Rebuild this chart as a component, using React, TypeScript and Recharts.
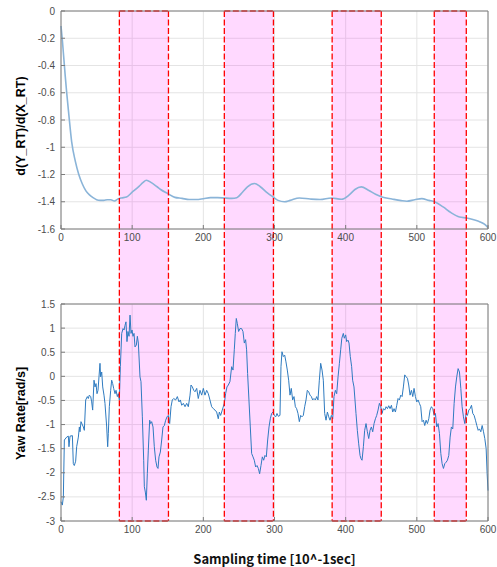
import { LineChart, Line, XAxis, YAxis, CartesianGrid, ReferenceArea, ReferenceLine } from "recharts";

const timeTicks = [0, 100, 200, 300, 400, 500, 600];
const slopeTicks = [0, -0.2, -0.4, -0.6, -0.8, -1, -1.2, -1.4, -1.6];
const yawTicks = [1.5, 1, 0.5, 0, -0.5, -1, -1.5, -2, -2.5, -3];

// highlighted manoeuvre windows, in sampling-time units
const bandStart = [82, 229.5, 381, 524.5];
const bandEnd = [151, 298.5, 450, 569.5];

const slopeTime = [
  0, 2, 4, 6, 8, 11, 15, 20, 25, 30, 35, 40, 45, 50, 55, 60, 65, 70, 75, 80, 85, 92, 100, 110, 115, 120, 127, 135,
  140, 150, 160, 170, 180, 190, 200, 210, 220, 230, 240, 247, 255, 262, 272, 280, 290, 298, 305, 314, 322, 335, 350,
  364, 380, 394, 405, 413, 422, 432, 442, 451, 465, 478, 486, 497, 507, 517, 525, 537, 548, 560, 570, 580, 589, 595,
  600,
];
const slopeValue = [
  -0.11, -0.22, -0.35, -0.48, -0.6, -0.76, -0.96, -1.1, -1.2, -1.27, -1.32, -1.35, -1.37, -1.385, -1.39, -1.39, -1.385,
  -1.385, -1.395, -1.38, -1.372, -1.365, -1.33, -1.285, -1.26, -1.242, -1.26, -1.29, -1.31, -1.34, -1.368, -1.375,
  -1.384, -1.384, -1.378, -1.37, -1.37, -1.373, -1.375, -1.37, -1.33, -1.29, -1.266, -1.29, -1.335, -1.365, -1.39,
  -1.4, -1.39, -1.372, -1.38, -1.384, -1.372, -1.382, -1.35, -1.31, -1.291, -1.315, -1.345, -1.365, -1.38, -1.392,
  -1.396, -1.385, -1.377, -1.39, -1.4, -1.438, -1.48, -1.512, -1.519, -1.532, -1.548, -1.565, -1.59,
];

const yawTime = [
  0, 0.9, 1.9, 3.3, 4.7, 8, 10.3, 11.2, 12.7, 16, 17.3, 18.7, 20.6, 22, 24.4, 25.8, 26.7, 28.1, 31.4, 32.8, 34.7, 37,
  38.4, 39.8, 41.7, 43.1, 44.5, 46.4, 47.8, 49.2, 50.6, 52, 53.9, 54.8, 55.7, 57.2, 58.6, 60.4, 61.8, 64.2, 65.6, 66.5,
  67.9, 69.8, 71.2, 72.6, 74, 75.9, 77.3, 79.2, 80.6, 82, 83.4, 85.3, 87.2, 88.6, 90, 91.3, 92.7, 94.1, 95.6, 97, 98.4,
  99.8, 101.2, 102.6, 104, 105.9, 107.3, 108.7, 111, 112.4, 114.3, 116.2, 117.1, 118.5, 119.9, 121.3, 122.7, 124.6,
  126, 127.4, 129.3, 131.1, 133, 134.9, 136.3, 137.7, 139.6, 141.5, 143.3, 145.2, 147.1, 149, 150.8, 152.7, 154.6,
  156.4, 158.3, 161.1, 163.5, 165.8, 167.7, 169.6, 171.9, 174.3, 176.6, 178.9, 181.3, 182.7, 184.6, 186.5, 188.3,
  190.7, 192.9, 195.3, 197.7, 200, 202.3, 204.7, 207, 209.3, 211.7, 214, 216.4, 218.7, 221, 222.5, 224.3, 226.6, 229.5,
  231.3, 233.2, 235.1, 237.4, 239.8, 241.7, 243.5, 244.9, 246.3, 247.7, 249.6, 251.5, 253.8, 255.7, 257.6, 259.4,
  260.8, 262.2, 264.1, 266, 267.9, 269.8, 271.6, 273.5, 275.4, 277.3, 279.1, 281, 282.9, 284.8, 286.6, 288.5, 290.4,
  292.3, 294.1, 296, 297.9, 299.8, 301.7, 303.5, 305.4, 307.7, 309.1, 310.5, 312.4, 314.3, 316.1, 318, 319.9, 321.8,
  323.6, 325.5, 327.4, 329.3, 331.1, 333, 334.9, 336.8, 338.6, 340.5, 342.4, 344.3, 346.1, 348, 349.9, 351.8, 353.6,
  355.5, 357.4, 359.3, 361.1, 363, 364.9, 366.8, 368.6, 370.5, 372.4, 374.3, 376.2, 378, 379.9, 381.8, 383.6, 385.5,
  387.4, 389.3, 391.2, 393, 394.6, 396.7, 398.1, 400, 401.4, 403.3, 404.7, 406.5, 408.4, 409.8, 411.7, 413.1, 414.5,
  416.4, 418.3, 420.2, 421.6, 423, 424.9, 426.7, 428.6, 430.5, 432.4, 434.3, 436.1, 438, 439.9, 441.8, 443.6, 445.5,
  447.4, 449.3, 451.1, 453, 454.9, 456.8, 458.7, 460.5, 462.4, 464.3, 466.1, 468, 469.9, 471.8, 473.6, 475.5, 477.4,
  479.3, 481.1, 483, 484.9, 486.8, 488.6, 490.5, 492.4, 494.3, 496.1, 498, 499.9, 501.8, 503.6, 505.5, 507.4, 509.3,
  511.1, 513, 514.9, 516.8, 518.6, 520.5, 522.4, 524.3, 526.1, 528, 529.9, 531.8, 533.7, 535.5, 537.4, 539.3, 541.2,
  543, 544.9, 546.8, 548.6, 550.5, 552.4, 554.3, 556.1, 558, 559.9, 561.8, 563.6, 565.5, 567.4, 569.3, 571.1, 573,
  574.9, 576.8, 578.6, 580.5, 582.4, 584.3, 586.2, 588, 589.9, 591.8, 593.7, 595.5, 597.4, 598.8, 600,
];
const yawRate = [
  -2.6, -2.64, -2.67, -2.5, -1.32, -1.26, -1.24, -1.46, -1.24, -1.23, -1.81, -1.85, -1.76, -1.46, -1.26, -1.05, -1.15,
  -0.94, -1.05, -1.12, -0.49, -0.42, -0.46, -0.39, -0.42, -0.53, -0.7, -0.08, -0.22, -0.15, -0.36, -0.29, 0.09, 0.27,
  -0.01, 0.09, -0.22, -0.39, -0.56, -1.05, -1.46, -1.19, -0.63, -0.29, -0.08, -0.15, -0.25, -0.36, -0.29, -0.42, -0.36,
  -0.49, 0.2, 0.89, 0.99, 0.96, 1.06, 1.13, 0.72, 0.93, 0.83, 1.27, 0.89, 0.96, 0.83, 0.89, 0.61, 0.65, 0.83, 0.69,
  -0.01, -0.11, -0.84, -1.74, -2.29, -2.4, -2.57, -2.02, -1.53, -0.91, -0.98, -0.94, -1.05, -1.46, -1.74, -1.88, -1.91,
  -1.67, -1.57, -1.32, -1.05, -1.02, -0.91, -0.84, -0.81, -0.98, -0.63, -0.49, -0.46, -0.49, -0.42, -0.53, -0.49, -0.6,
  -0.56, -0.63, -0.56, -0.63, -0.39, -0.18, -0.22, -0.29, -0.32, -0.25, -0.46, -0.29, -0.39, -0.25, -0.39, -0.29, -0.36,
  -0.49, -0.63, -0.67, -0.7, -0.74, -0.88, -0.74, -0.81, -0.7, -0.56, -0.36, -0.22, -0.18, -0.11, 0.2, 0.13, 0.55, 0.89,
  1.2, 1.1, 0.93, 0.99, 0.99, 0.93, 0.69, 0.76, 0.55, 0.06, -0.49, -1.05, -1.6, -1.67, -1.74, -1.88, -1.85, -1.91,
  -2.02, -1.85, -1.67, -1.74, -1.64, -1.67, -1.32, -1.05, -0.88, -0.77, -0.74, -0.81, -0.84, -0.77, -0.83, -0.81, 0.2,
  0.51, 0.41, 0.44, 0.3, 0.13, -0.08, -0.39, -0.25, -0.49, -0.42, -0.63, -0.67, -0.77, -0.94, -0.81, -0.84, -0.81,
  -0.63, -0.49, -0.29, -0.32, -0.39, -0.42, -0.49, -0.46, -0.49, -0.42, -0.49, -0.08, 0.27, 0.13, -0.08, -0.77, -0.91,
  -0.74, -0.84, -0.91, -0.81, -0.88, -0.42, -0.29, -0.36, -0.01, 0.27, 0.55, 0.79, 0.89, 0.79, 0.86, 0.72, 0.75, 0.69,
  0.41, 0.2, -0.08, -0.22, -0.49, -0.77, -1.12, -1.4, -1.64, -1.71, -1.74, -1.46, -1.12, -0.98, -1.15, -1.29, -1.12,
  -1.05, -1.15, -0.98, -0.88, -0.81, -0.7, -0.56, -0.63, -0.77, -0.67, -0.7, -0.63, -0.67, -0.61, -0.67, -0.6, -0.74,
  -0.67, -0.74, -0.6, -0.46, -0.49, -0.39, -0.42, -0.22, 0.03, -0.01, -0.04, -0.18, -0.39, -0.29, -0.42, -0.25, -0.42,
  -0.53, -0.49, -0.56, -0.63, -0.94, -0.91, -1.02, -0.91, -0.98, -0.88, -0.7, -0.63, -0.67, -0.81, -0.77, -1.05, -0.98,
  -1.19, -1.6, -1.81, -1.91, -1.81, -1.78, -1.74, -1.64, -1.26, -1.05, -1.09, -0.56, -0.22, -0.01, 0.16, 0.09, -0.25,
  -0.63, -0.84, -0.98, -0.77, -0.81, -0.7, -0.67, -0.6, -0.77, -0.81, -0.91, -1.02, -1.12, -1.09, -1.15, -1.02, -1.15,
  -1.29, -1.5, -2.02, -2.37,
];

const slopeData = slopeTime.map((t, i) => ({ t, v: slopeValue[i] }));
const yawData = yawTime.map((t, i) => ({ t, v: yawRate[i] }));

const FONT = "'Liberation Sans', Arial, sans-serif";
const BOX = "#7c7c7c";
const GRID = "#e4e4e4";
const tickStyle = { fill: "#4d4d4d", fontSize: 10, fontFamily: FONT };
const bandFill = "#ff00ff";
const dash = { stroke: "#ff0000", strokeWidth: 1.3, strokeDasharray: "6 2.5" };

const sideLabel = (text: string, shift: number) => (props: any) => {
  const vb = props.viewBox;
  const cx = 21;
  const cy = vb.y + vb.height / 2 + shift;
  return (
    <text
      x={cx}
      y={cy}
      transform={`rotate(-90 ${cx} ${cy})`}
      textAnchor="middle"
      dominantBaseline="central"
      fontSize={12.5}
      fontWeight="bold"
      fontFamily={FONT}
      fill="#000"
    >
      {text}
    </text>
  );
};

const bottomLabel = (props: any) => {
  const vb = props.viewBox;
  return (
    <text
      x={vb.x + vb.width / 2}
      y={vb.y + 37}
      textAnchor="middle"
      dominantBaseline="central"
      fontSize={13}
      fontWeight="bold"
      fontFamily="'Noto Sans CJK KR', 'Noto Sans', sans-serif"
      fill="#111"
    >
      Sampling time [10^-1sec]
    </text>
  );
};

function BoxAxes({ domain, ticks }: { domain: number[]; ticks: number[] }) {
  return null;
}

export default function App() {
  return (
    <div style={{ position: "absolute", left: 0, top: 0, width: 497, height: 567, background: "#fff" }}>
      <LineChart width={497} height={260} data={slopeData} margin={{ top: 10, right: 8, left: 0, bottom: 0 }}>
        <CartesianGrid stroke={GRID} />
        {bandStart.map((s, i) => (
          <ReferenceArea
            key={`a${i}`}
            x1={s}
            x2={bandEnd[i]}
            y1={0}
            y2={-1.9}
            fill={bandFill}
            fillOpacity={0.15}
            stroke="none"
            ifOverflow="visible"
          />
        ))}
        <XAxis
          dataKey="t"
          type="number"
          domain={[0, 600]}
          ticks={timeTicks}
          height={31}
          tick={tickStyle}
          tickSize={-4}
          tickMargin={9}
          axisLine={{ stroke: BOX }}
          tickLine={{ stroke: BOX }}
        />
        <XAxis
          xAxisId="top"
          orientation="top"
          dataKey="t"
          type="number"
          domain={[0, 600]}
          ticks={timeTicks}
          height={1}
          tick={false}
          tickSize={-4}
          axisLine={{ stroke: BOX }}
          tickLine={{ stroke: BOX }}
        />
        <YAxis
          type="number"
          domain={[-1.6, 0]}
          ticks={slopeTicks}
          width={61}
          tick={tickStyle}
          tickSize={-4}
          tickMargin={10}
          axisLine={{ stroke: BOX }}
          tickLine={{ stroke: BOX }}
          label={{ content: sideLabel("d(Y_RT)/d(X_RT)", 6) }}
        />
        <YAxis
          yAxisId="right"
          orientation="right"
          type="number"
          domain={[-1.6, 0]}
          ticks={slopeTicks}
          width={1}
          tick={false}
          tickSize={-4}
          axisLine={{ stroke: BOX }}
          tickLine={{ stroke: BOX }}
        />
        <Line
          type="monotone"
          dataKey="v"
          stroke="#8ab4d8"
          strokeWidth={1.6}
          dot={false}
          isAnimationActive={false}
        />
        {bandStart.map((s, i) => (
          <ReferenceLine key={`l${i}`} segment={[{ x: s, y: 0 }, { x: s, y: -1.9 }]} ifOverflow="visible" {...dash} />
        ))}
        {bandEnd.map((s, i) => (
          <ReferenceLine key={`r${i}`} segment={[{ x: s, y: 0 }, { x: s, y: -1.9 }]} ifOverflow="visible" {...dash} />
        ))}
        {bandStart.map((s, i) => (
          <ReferenceLine key={`t${i}`} segment={[{ x: s, y: 0 }, { x: bandEnd[i], y: 0 }]} ifOverflow="visible" {...dash} />
        ))}
      </LineChart>
      <LineChart width={497} height={307} data={yawData} margin={{ top: 43, right: 8, left: 0, bottom: 0 }}>
        <CartesianGrid stroke={GRID} />
        {bandStart.map((s, i) => (
          <ReferenceArea
            key={`a${i}`}
            x1={s}
            x2={bandEnd[i]}
            y1={2.5}
            y2={-3}
            fill={bandFill}
            fillOpacity={0.15}
            stroke="none"
            ifOverflow="visible"
          />
        ))}
        <XAxis
          dataKey="t"
          type="number"
          domain={[0, 600]}
          ticks={timeTicks}
          height={46}
          tick={tickStyle}
          tickSize={-4}
          tickMargin={9}
          axisLine={{ stroke: BOX }}
          tickLine={{ stroke: BOX }}
          label={{ content: bottomLabel }}
        />
        <XAxis
          xAxisId="top"
          orientation="top"
          dataKey="t"
          type="number"
          domain={[0, 600]}
          ticks={timeTicks}
          height={1}
          tick={false}
          tickSize={-4}
          axisLine={{ stroke: BOX }}
          tickLine={{ stroke: BOX }}
        />
        <YAxis
          type="number"
          domain={[-3, 1.5]}
          ticks={yawTicks}
          width={61}
          tick={tickStyle}
          tickSize={-4}
          tickMargin={10}
          axisLine={{ stroke: BOX }}
          tickLine={{ stroke: BOX }}
          label={{ content: sideLabel("Yaw Rate[rad/s]", 1) }}
        />
        <YAxis
          yAxisId="right"
          orientation="right"
          type="number"
          domain={[-3, 1.5]}
          ticks={yawTicks}
          width={1}
          tick={false}
          tickSize={-4}
          axisLine={{ stroke: BOX }}
          tickLine={{ stroke: BOX }}
        />
        <Line type="linear" dataKey="v" stroke="#2f7bc0" strokeWidth={1} dot={false} isAnimationActive={false} />
        {bandStart.map((s, i) => (
          <ReferenceLine key={`l${i}`} segment={[{ x: s, y: 2.5 }, { x: s, y: -3 }]} ifOverflow="visible" {...dash} />
        ))}
        {bandEnd.map((s, i) => (
          <ReferenceLine key={`r${i}`} segment={[{ x: s, y: 2.5 }, { x: s, y: -3 }]} ifOverflow="visible" {...dash} />
        ))}
        {bandStart.map((s, i) => (
          <ReferenceLine key={`b${i}`} segment={[{ x: s, y: -3 }, { x: bandEnd[i], y: -3 }]} ifOverflow="visible" {...dash} />
        ))}
      </LineChart>
    </div>
  );
}
